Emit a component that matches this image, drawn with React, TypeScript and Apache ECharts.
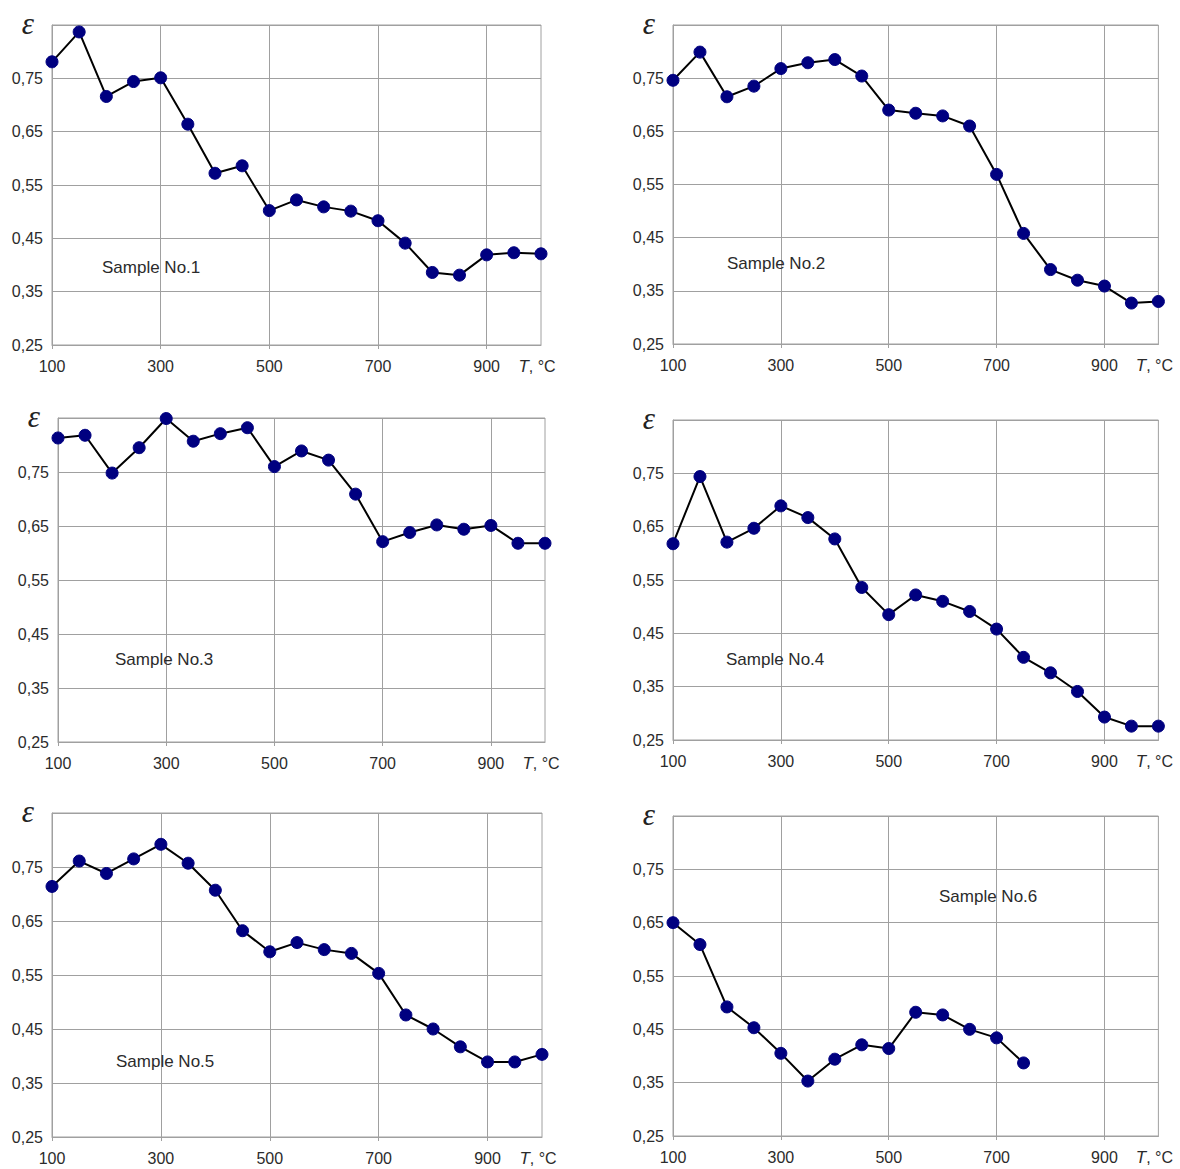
import React, { useEffect, useRef } from "react";
import * as echarts from "echarts";

// Temperatures, °C (x categories)
const temperatures = [100, 150, 200, 250, 300, 350, 400, 450, 500, 550, 600, 650, 700, 750, 800, 850, 900, 950, 1000];

// Emissivity values per sample
const sample1 = [0.781, 0.837, 0.716, 0.744, 0.751, 0.664, 0.572, 0.586, 0.502, 0.522, 0.509, 0.501, 0.483, 0.441, 0.386, 0.381, 0.419, 0.423, 0.421];
const sample2 = [0.746, 0.799, 0.715, 0.735, 0.768, 0.779, 0.785, 0.754, 0.690, 0.684, 0.679, 0.660, 0.569, 0.458, 0.390, 0.370, 0.359, 0.327, 0.330];
const sample3 = [0.813, 0.818, 0.748, 0.795, 0.849, 0.807, 0.821, 0.832, 0.760, 0.789, 0.772, 0.709, 0.621, 0.638, 0.652, 0.644, 0.651, 0.618, 0.618];
const sample4 = [0.618, 0.744, 0.621, 0.647, 0.689, 0.667, 0.627, 0.536, 0.485, 0.522, 0.510, 0.491, 0.458, 0.405, 0.376, 0.341, 0.293, 0.276, 0.276];
const sample5 = [0.714, 0.761, 0.738, 0.765, 0.792, 0.757, 0.707, 0.632, 0.593, 0.610, 0.597, 0.590, 0.553, 0.476, 0.450, 0.417, 0.389, 0.389, 0.403];
const sample6 = [0.650, 0.609, 0.492, 0.453, 0.405, 0.353, 0.394, 0.421, 0.414, 0.482, 0.477, 0.450, 0.434, 0.387];

const sampleNames = ["Sample No.1", "Sample No.2", "Sample No.3", "Sample No.4", "Sample No.5", "Sample No.6"];
const sampleData = [sample1, sample2, sample3, sample4, sample5, sample6];

// Y axis range / tick labels
const yMin = 0.25;
const yMax = 0.85;
const yStep = 0.05;

// Layout (pixel rectangles of each plot area and label positions)
const panels = [
  { left: 52, top: 25, right: 541, bottom: 345, labelX: 102, labelY: 267 },
  { left: 673, top: 25, right: 1163, bottom: 344, labelX: 727, labelY: 263 },
  { left: 58, top: 418, right: 545, bottom: 742, labelX: 115, labelY: 659 },
  { left: 673, top: 420, right: 1160, bottom: 740, labelX: 726, labelY: 659 },
  { left: 52, top: 813, right: 542, bottom: 1137, labelX: 116, labelY: 1061 },
  { left: 673, top: 816, right: 1161, bottom: 1136, labelX: 939, labelY: 896 },
];

const GRID = "#a0a0a0";
const TEXT = "#2b2b2b";
const FONT = "Liberation Sans, Arial, sans-serif";

export default function App() {
  const ref = useRef<HTMLDivElement>(null);

  useEffect(() => {
    if (!ref.current) return;
    const chart = echarts.init(ref.current, null, { renderer: "svg" });
    const cats = temperatures.map(String);
    const lastIdx = temperatures.length - 1;

    const grids = panels.map((p) => ({
      left: p.left,
      top: p.top,
      width: p.right - p.left,
      height: p.bottom - p.top,
      show: true,
      borderColor: GRID,
      borderWidth: 1,
      backgroundColor: "transparent",
      containLabel: false,
    }));

    const xAxes = panels.map((_, i) => ({
      type: "category",
      gridIndex: i,
      data: cats,
      boundaryGap: false,
      axisLine: { show: true, lineStyle: { color: GRID, width: 1 } },
      axisTick: {
        show: true,
        length: 4,
        interval: (idx: number) => idx % 4 === 0,
        lineStyle: { color: GRID },
      },
      splitLine: {
        show: true,
        interval: (idx: number) => idx % 4 === 0 && idx !== 0,
        lineStyle: { color: GRID, width: 1 },
      },
      axisLabel: {
        interval: (idx: number) => idx % 4 === 0 || idx === lastIdx,
        margin: 13,
        color: TEXT,
        fontSize: 16,
        fontFamily: FONT,
        formatter: (v: string) => (v === "1000" ? "{it|T}{n|, °C}{pad|}" : v),
        rich: {
          it: { fontStyle: "italic", fontSize: 17, fontFamily: FONT, color: TEXT },
          n: { fontSize: 16, fontFamily: FONT, color: TEXT },
          pad: { width: 8 },
        },
      },
    }));

    const yAxes = panels.map((_, i) => ({
      type: "value",
      gridIndex: i,
      min: yMin,
      max: yMax,
      interval: yStep,
      axisLine: { show: true, lineStyle: { color: GRID, width: 1 } },
      axisTick: { show: false },
      splitLine: {
        show: true,
        lineStyle: { color: [GRID, "rgba(0,0,0,0)"], width: 1 },
      },
      axisLabel: {
        margin: 9,
        color: TEXT,
        fontSize: 16,
        fontFamily: FONT,
        formatter: (v: number) => {
          const k = Math.round((v - yMin) / yStep);
          if (k % 2 !== 0) return "";
          if (Math.abs(v - yMax) < 1e-6) return "{eps|ε}";
          return v.toFixed(2).replace(".", ",");
        },
        rich: {
          eps: {
            fontFamily: "Liberation Serif, DejaVu Serif, serif",
            fontStyle: "italic",
            fontSize: 31,
            color: "#222",
            padding: [0, 9, 4, 0],
          },
        },
      },
    }));

    const series = sampleData.map((d, i) => ({
      type: "line",
      name: sampleNames[i],
      xAxisIndex: i,
      yAxisIndex: i,
      data: d,
      symbol: "circle",
      symbolSize: 12,
      itemStyle: { color: "#000080", borderColor: "#000080" },
      lineStyle: { color: "#000000", width: 2 },
      z: 3,
    }));

    const graphic = panels.map((p, i) => ({
      type: "text",
      x: p.labelX,
      y: p.labelY,
      style: {
        text: sampleNames[i],
        fill: TEXT,
        fontSize: 17,
        fontFamily: FONT,
        textAlign: "left",
        textVerticalAlign: "middle",
      },
      z: 10,
    }));

    chart.setOption({
      animation: false,
      backgroundColor: "#ffffff",
      grid: grids,
      xAxis: xAxes,
      yAxis: yAxes,
      series,
      graphic,
    });

    return () => {
      chart.dispose();
    };
  }, []);

  return (
    <div
      ref={ref}
      style={{ position: "absolute", left: 0, top: 0, width: 1180, height: 1169 }}
    />
  );
}
